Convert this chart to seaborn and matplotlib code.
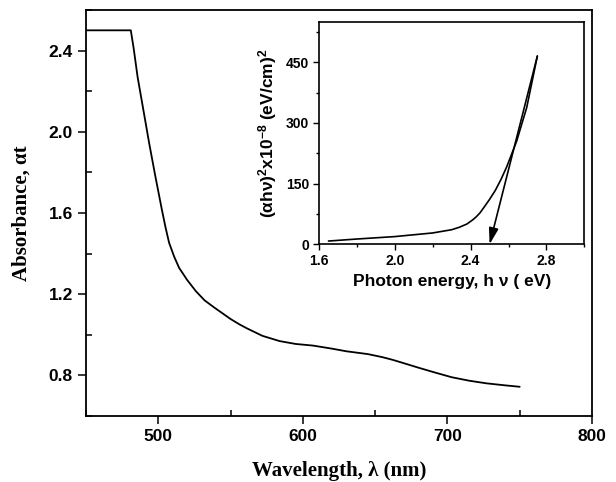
import seaborn as sns
import matplotlib.pyplot as plt
from matplotlib.ticker import MultipleLocator

# main spectrum: wavelength (nm) vs absorbance
wavelength = [450, 481, 483, 485.7, 490, 493.7, 498, 502.5, 505, 507.5, 511, 514.4, 520,
              526, 532, 538.6, 545, 550, 556, 561, 572, 584, 595, 607, 620, 630, 645,
              655, 662, 669, 680, 692, 703, 715, 727, 740, 750]
absorbance = [2.50, 2.50, 2.41, 2.27, 2.095, 1.944, 1.78, 1.616, 1.53, 1.453, 1.385, 1.33, 1.27,
              1.215, 1.17, 1.135, 1.103, 1.078, 1.052, 1.033, 0.995, 0.969, 0.955, 0.947,
              0.932, 0.919, 0.905, 0.89, 0.877, 0.862, 0.838, 0.813, 0.791, 0.774, 0.761,
              0.751, 0.744]

# inset: Tauc plot
energy = [1.65, 1.8, 2.0, 2.2, 2.3, 2.34, 2.38, 2.41, 2.43, 2.45, 2.47, 2.50, 2.53, 2.56,
          2.59, 2.643, 2.696, 2.752]
tauc = [8, 13, 19, 28, 36, 42, 50, 60, 68, 78, 91, 111, 133, 160, 191, 255, 338, 465]

# tangent arrow (extrapolation to band gap)
tangent_top = (2.752, 465)
band_gap = 2.5

sns.set_style('ticks', {'axes.edgecolor': 'black', 'xtick.color': 'black',
                        'ytick.color': 'black', 'text.color': 'black',
                        'axes.labelcolor': 'black'})
plt.rcParams['mathtext.fontset'] = 'custom'
plt.rcParams['mathtext.rm'] = 'Liberation Sans:bold'
plt.rcParams['mathtext.default'] = 'rm'

fig = plt.figure(figsize=(6.16, 4.82), dpi=100)
ax = fig.add_axes([0.1396, 0.1369, 0.8214, 0.8423])

sns.lineplot(x=wavelength, y=absorbance, ax=ax, color='black', linewidth=1.3)
ax.set_xlim(450, 800)
ax.set_ylim(0.6, 2.6)
ax.set_xticks([500, 600, 700, 800])
ax.set_yticks([0.8, 1.2, 1.6, 2.0, 2.4])
ax.xaxis.set_minor_locator(MultipleLocator(50))
ax.yaxis.set_minor_locator(MultipleLocator(0.2))
ax.tick_params(which='major', direction='out', length=6, width=1.1, labelsize=12.5)
ax.tick_params(which='minor', direction='in', length=4, width=1.1)
for lab in ax.get_xticklabels() + ax.get_yticklabels():
    lab.set_fontfamily('Liberation Sans')
    lab.set_fontweight('bold')
for s in ax.spines.values():
    s.set_linewidth(1.3)
ax.set_xlabel('Wavelength, λ (nm)', family='Liberation Serif', weight='bold', fontsize=15, labelpad=12)
ax.set_ylabel('Absorbance, αt', family='Liberation Serif', weight='bold', fontsize=15, labelpad=12)

# inset
axin = fig.add_axes([0.5179, 0.4932, 0.4307, 0.4618])
sns.lineplot(x=energy, y=tauc, ax=axin, color='black', linewidth=1.2)
axin.annotate('', xy=(band_gap, 0), xytext=tangent_top,
              arrowprops=dict(arrowstyle='-|>,head_width=0.22,head_length=0.75', color='black',
                              lw=1.2, mutation_scale=13, shrinkA=0, shrinkB=0))
axin.set_xlim(1.6, 3.0)
axin.set_ylim(0, 550)
axin.set_xticks([1.6, 2.0, 2.4, 2.8])
axin.set_yticks([0, 150, 300, 450])
axin.xaxis.set_minor_locator(MultipleLocator(0.2))
axin.yaxis.set_minor_locator(MultipleLocator(75))
axin.tick_params(which='major', direction='out', length=4, width=1, labelsize=10, pad=3)
axin.tick_params(which='minor', direction='out', length=2.5, width=1)
for lab in axin.get_xticklabels() + axin.get_yticklabels():
    lab.set_fontfamily('Liberation Sans')
    lab.set_fontweight('bold')
for s in axin.spines.values():
    s.set_linewidth(1.2)
axin.set_xlabel('Photon energy, h ν ( eV)', family='Liberation Sans', weight='bold', fontsize=12.5, labelpad=4)
axin.set_ylabel(r'(αhν)$^{2}$x10$^{-8}$ (eV/cm)$^{2}$', family='Liberation Sans', weight='bold',
                fontsize=12.5, labelpad=5)

fig.savefig('out.png', dpi=100)
